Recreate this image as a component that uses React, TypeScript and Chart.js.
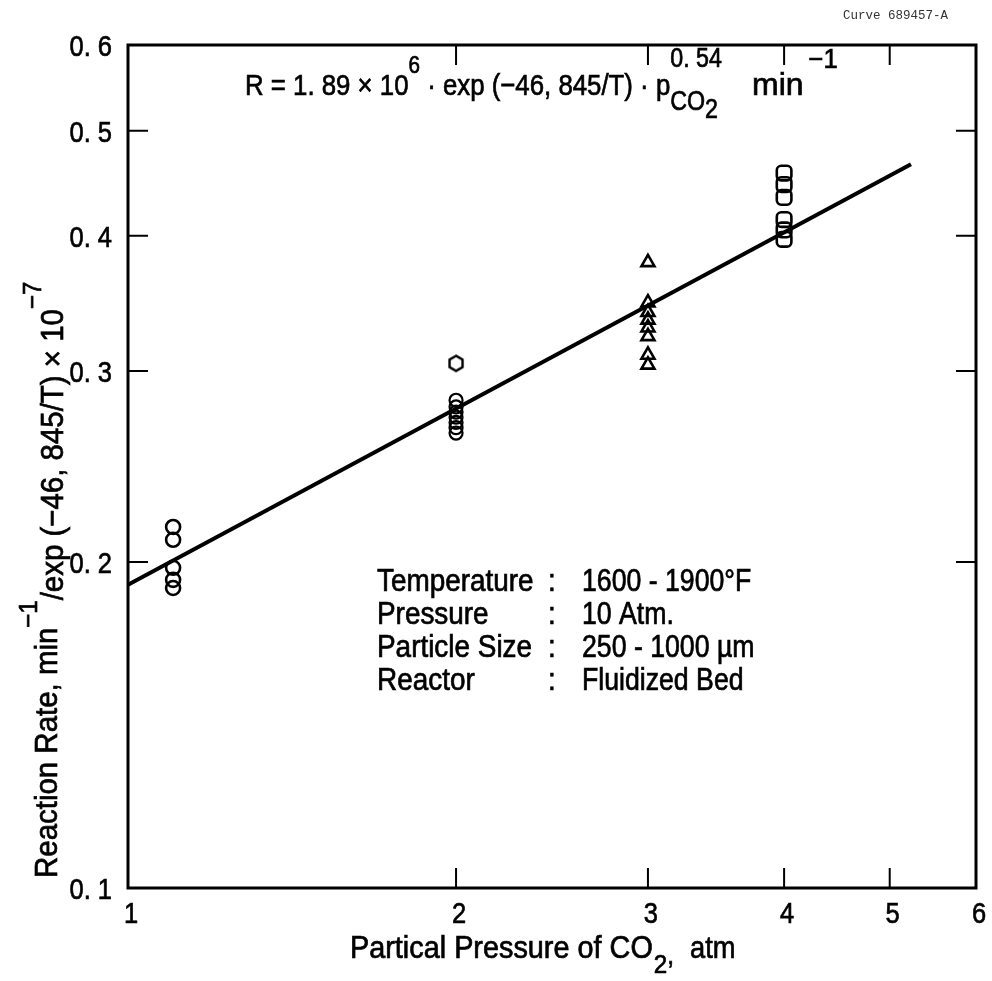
import React, { useEffect, useRef } from 'react';
import { Chart, registerables } from 'chart.js';

Chart.register(...registerables);

// ---- data ----
const xTickLabels = [1, 2, 3, 4, 5, 6];
const yTickLabels = [0.1, 0.2, 0.3, 0.4, 0.5, 0.6];
const xMinorMarks = [2, 3, 4, 5];
const yMinorMarks = [0.2, 0.3, 0.4, 0.5];

const circleX = [1.1, 1.1, 1.1, 1.1, 1.1];
const circleY = [0.2154, 0.2096, 0.1975, 0.1925, 0.1892];

const hexX = [2];
const hexY = [0.305];

const stackX = [2, 2, 2, 2, 2, 2, 2];
const stackY = [0.282, 0.278, 0.275, 0.272, 0.269, 0.266, 0.263];

const triX = [3, 3, 3, 3, 3, 3, 3, 3];
const triY = [0.378, 0.347, 0.340, 0.3345, 0.329, 0.323, 0.3105, 0.304];

const sqX = [4, 4, 4, 4, 4, 4];
const sqY = [0.457, 0.446, 0.434, 0.414, 0.405, 0.397];

const fitX = [1, 5.23];
const fitY = [0.1905, 0.4656];

const FAM = "'Liberation Sans', Arial, sans-serif";
const SX = 0.9;
const STROKE = 0.7;

type Seg = { t: string; size: number; dy?: number; adv?: boolean; gap?: number };

function paint(ctx: CanvasRenderingContext2D, s: string, stroke = STROKE) {
  ctx.fillText(s, 0, 0);
  if (stroke > 0) {
    ctx.lineWidth = stroke;
    ctx.strokeStyle = ctx.fillStyle as string;
    ctx.strokeText(s, 0, 0);
  }
}

function txt(ctx: CanvasRenderingContext2D, s: string, x: number, y: number, size: number, align: CanvasTextAlign = 'left', sx = SX, fam = FAM, stroke = STROKE) {
  ctx.save();
  ctx.font = `${size}px ${fam}`;
  ctx.textAlign = align;
  ctx.textBaseline = 'alphabetic';
  ctx.translate(x, y);
  ctx.scale(sx, 1);
  paint(ctx, s, stroke);
  ctx.restore();
}

function rich(ctx: CanvasRenderingContext2D, segs: Seg[], x: number, y: number, sx = SX) {
  let cx = 0;
  for (const s of segs) {
    ctx.save();
    ctx.font = `${s.size}px ${FAM}`;
    ctx.textAlign = 'left';
    ctx.textBaseline = 'alphabetic';
    const w = ctx.measureText(s.t).width * sx;
    ctx.translate(x + cx, y + (s.dy || 0));
    ctx.scale(sx, 1);
    paint(ctx, s.t);
    ctx.restore();
    if (s.adv !== false) cx += w + (s.gap || 0);
  }
  return cx;
}

function makeHex(): HTMLCanvasElement {
  const c = document.createElement('canvas');
  c.width = 22; c.height = 22;
  const g = c.getContext('2d')!;
  g.strokeStyle = '#000';
  g.lineWidth = 2.4;
  g.beginPath();
  for (let i = 0; i < 6; i++) {
    const a = Math.PI / 2 + (i * Math.PI) / 3;
    const px = 11 + Math.cos(a) * 7.5;
    const py = 11 - Math.sin(a) * 7.5;
    if (i === 0) g.moveTo(px, py); else g.lineTo(px, py);
  }
  g.closePath();
  g.stroke();
  return c;
}

const decor = {
  id: 'decor',
  afterDraw(chart: any) {
    const ctx: CanvasRenderingContext2D = chart.ctx;
    const xs = chart.scales.x;
    const ys = chart.scales.y;
    const { left, right, top, bottom } = chart.chartArea;
    ctx.save();
    ctx.strokeStyle = '#000';
    ctx.fillStyle = '#000';
    // frame
    ctx.lineWidth = 3;
    ctx.strokeRect(left, top, right - left, bottom - top);
    // inward ticks
    ctx.lineWidth = 2;
    ctx.beginPath();
    for (const v of xMinorMarks) {
      const px = xs.getPixelForValue(v);
      ctx.moveTo(px, bottom); ctx.lineTo(px, bottom - 20);
      ctx.moveTo(px, top); ctx.lineTo(px, top + 20);
    }
    for (const v of yMinorMarks) {
      const py = ys.getPixelForValue(v);
      ctx.moveTo(left, py); ctx.lineTo(left + 20, py);
      ctx.moveTo(right, py); ctx.lineTo(right - 20, py);
    }
    ctx.stroke();
    // tick labels
    for (const v of yTickLabels) {
      const py = ys.getPixelForValue(v);
      txt(ctx, v.toFixed(1).replace('.', '. '), 112, py + 11, 30, 'right', 0.85);
    }
    for (const v of xTickLabels) {
      const px = xs.getPixelForValue(v);
      txt(ctx, String(v), px + 3, 923, 30, 'center', 0.85);
    }
    // x title
    const w1 = rich(ctx, [{ t: 'Partical Pressure of CO', size: 31 }], 350, 958, 0.93);
    rich(ctx, [{ t: '2', size: 26, dy: 15 }, { t: ',', size: 26, dy: 6 }], 350 + w1 + 1, 958, 0.93);
    rich(ctx, [{ t: 'atm', size: 31 }], 690, 958, 0.88);
    // y title
    ctx.save();
    ctx.translate(57, 878);
    ctx.rotate(-Math.PI / 2);
    rich(ctx, [
      { t: 'Reaction Rate, min', size: 32 },
      { t: '\u22121', size: 26, dy: -20, adv: true },
      { t: '/exp (\u221246, 845/T) \u00d7 10', size: 32, dy: 6 },
      { t: '\u22127', size: 26, dy: -16 },
    ], 0, 0, 0.92);
    ctx.restore();
    // equation
    const EQ = 0.86;
    let ex = 245;
    ex += rich(ctx, [
      { t: 'R = 1. 89 \u00d7 10', size: 30 },
      { t: '6', size: 24, dy: -22 },
      { t: ' \u00b7 exp (\u221246, 845/T) \u00b7 p', size: 30 },
    ], ex, 95, EQ);
    const supX = ex;
    ex += rich(ctx, [{ t: 'CO', size: 27 }], ex, 110, EQ);
    ex += rich(ctx, [{ t: '2', size: 27 }], ex, 118, EQ);
    rich(ctx, [{ t: '0. 54', size: 27 }], supX, 67, EQ);
    ex = Math.max(ex + 26, 752);
    ex += rich(ctx, [{ t: 'min', size: 32 }], ex, 95, 1.0);
    rich(ctx, [{ t: '\u22121', size: 27 }], ex + 5, 68, 0.95);
    // parameter block
    const rows: [string, string][] = [
      ['Temperature', '1600 - 1900\u00b0F'],
      ['Pressure', '10 Atm.'],
      ['Particle Size', '250 - 1000\u00a0\u00b5m'],
      ['Reactor', 'Fluidized Bed'],
    ];
    rows.forEach((r, i) => {
      const by = 591 + i * 33;
      txt(ctx, r[0], 377, by, 31);
      txt(ctx, ':', 552, by, 31, 'center');
      txt(ctx, r[1], 582, by, 31, 'left', 0.86);
    });
    // curve id
    ctx.fillStyle = '#333';
    txt(ctx, 'Curve 689457-A', 843, 19, 12.5, 'left', 1, "'Liberation Mono', monospace", 0);
    ctx.restore();
  },
};

export default function App() {
  const ref = useRef<HTMLCanvasElement>(null);
  useEffect(() => {
    const hex = makeHex();
    const pts = (xs: number[], ys: number[]) => xs.map((x, i) => ({ x, y: ys[i] }));
    const chart = new Chart(ref.current!, {
      type: 'scatter',
      data: {
        datasets: [
          {
            label: 'fit',
            data: pts(fitX, fitY),
            showLine: true,
            borderColor: '#000',
            borderWidth: 4,
            pointRadius: 0,
          },
          {
            label: 'circles',
            data: pts(circleX, circleY),
            pointStyle: 'circle',
            pointRadius: 7,
            borderColor: '#000',
            borderWidth: 2.6,
            backgroundColor: 'rgba(0,0,0,0)',
          },
          {
            label: 'hex',
            data: pts(hexX, hexY),
            pointStyle: hex as any,
            pointRadius: 8,
          },
          {
            label: 'stack',
            data: pts(stackX, stackY),
            pointStyle: 'circle',
            pointRadius: 6.5,
            borderColor: '#000',
            borderWidth: 2.2,
            backgroundColor: 'rgba(0,0,0,0)',
          },
          {
            label: 'triangles',
            data: pts(triX, triY),
            pointStyle: 'triangle',
            pointRadius: 7.5,
            borderColor: '#000',
            borderWidth: 2.6,
            backgroundColor: 'rgba(0,0,0,0)',
          },
          {
            label: 'squares',
            data: pts(sqX, sqY),
            pointStyle: 'rectRounded',
            pointRadius: 8.5,
            borderColor: '#000',
            borderWidth: 2.6,
            backgroundColor: 'rgba(0,0,0,0)',
          },
        ],
      },
      options: {
        animation: false,
        responsive: false,
        devicePixelRatio: 1,
        layout: { padding: { left: 128, right: 16, top: 45, bottom: 93 } },
        plugins: { legend: { display: false }, tooltip: { enabled: false } },
        scales: {
          x: { type: 'logarithmic', min: 1, max: 6, display: false },
          y: { type: 'logarithmic', min: 0.1, max: 0.6, display: false },
        },
      },
      plugins: [decor],
    });
    return () => chart.destroy();
  }, []);
  return (
    <div style={{ position: 'absolute', left: 0, top: 0, width: 992, height: 981, background: '#fff' }}>
      <canvas ref={ref} width={992} height={981} style={{ display: 'block' }} />
    </div>
  );
}
